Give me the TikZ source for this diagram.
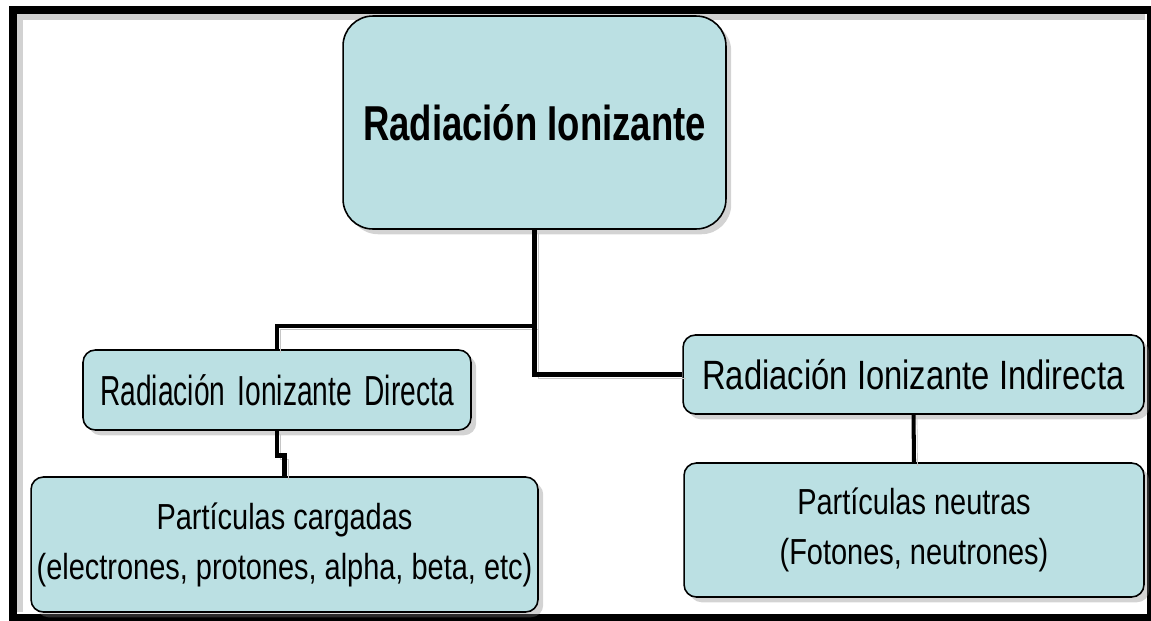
\documentclass[tikz,border=0pt]{standalone}
\usepackage{fontspec}
\setmainfont{Liberation Sans}[FakeStretch=0.8]
\newfontfamily\titfont{Liberation Sans}[FakeStretch=0.745]
\newfontfamily\dirfont{Liberation Sans}[FakeStretch=0.67,WordSpace=1.6]
\usepackage{tikz}
\usetikzlibrary{shadows}
\definecolor{cajaazul}{RGB}{187,224,227}
\tikzstyle{caja} = [rectangle, rounded corners=7pt, draw=black, line width=0.9pt, fill=cajaazul, align=center, inner sep=0pt, drop shadow={shadow xshift=3pt, shadow yshift=-3pt, opacity=0.35}]
\tikzstyle{rama} = [-, draw=black, line width=2.8pt, preaction={draw=gray!45, transform canvas={shift={(2pt,-2pt)}}}]

\begin{document}
\begin{tikzpicture}[x=0.02cm, y=-0.02cm]
\useasboundingbox (0,0) rectangle (1151,620);
\clip (0,0) rectangle (1151,620);
% marco
\draw [gray!35, line width=3pt] (20,612) -- (20,17) -- (1145,17);
\draw [black, line width=4.5pt] (13,10) rectangle (1151,618);

\node [caja, rounded corners=17pt, minimum width=7.66cm, minimum height=4.26cm, font=\titfont\fontsize{27.9}{30}\selectfont\bfseries] (RI) at (534.5,122.5) {Radiación Ionizante};
\node [caja, minimum width=7.76cm, minimum height=1.6cm, font=\dirfont\fontsize{23.9}{26}\selectfont] (RID) at (277,390) {Radiación Ionizante Directa};
\node [caja, minimum width=9.22cm, minimum height=1.58cm, font=\fontsize{23.3}{25}\selectfont] (RII) at (913.5,374.5) {Radiación Ionizante Indirecta};
\node [caja, minimum width=10.14cm, minimum height=2.7cm, font=\fontsize{20.6}{28.5}\selectfont] (PC) at (284.5,544.5) {Partículas cargadas\\(electrones, protones, alpha, beta, etc)};
\node [caja, minimum width=9.2cm, minimum height=2.68cm, font=\fontsize{20.6}{28.5}\selectfont] (PN) at (914,530) {Partículas neutras\\(Fotones, neutrones)};

\coordinate (j) at (534.5,326);
\draw [rama] (RI.south) -- (j) -| (RID.north);
\draw [rama] (j) |- (RII.west);
\draw [rama] (RID.south) -- ++(0,25) -| (PC.north);
\draw [rama, line width=2.3pt] (RII.south) -- (PN.north);
\end{tikzpicture}
\end{document}
